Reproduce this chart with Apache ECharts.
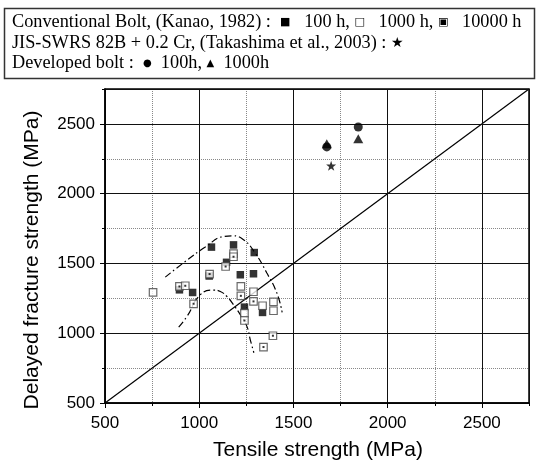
<!DOCTYPE html>
<html><head><meta charset="utf-8">
<script src="https://cdn.jsdelivr.net/npm/echarts@6/dist/echarts.min.js"></script>
<style>html,body{margin:0;padding:0;background:#fff}#c{width:538px;height:467px}</style>
</head><body><div id="c"></div>
<script>
// Axis ticks
const xTickValues = [500, 1000, 1500, 2000, 2500];
const yTickValues = [500, 1000, 1500, 2000, 2500];
// Conventional bolt (Kanao, 1982): [tensile, delayed fracture]
const bolt100h = [[895,1311],[965,1292],[1053,1410],[1065,1617],[1182,1633],[1145,1508],[1292,1578],[1218,1419],[1288,1426],[1240,1187],[1336,1149]];
const bolt1000h = [[755,1292],[1182,1570],[1221,1335],[1288,1297],[1336,1197],[1394,1225],[1394,1161],[1240,1144]];
const bolt10000h = [[895,1335],[926,1340],[970,1211],[1055,1424],[1140,1478],[1182,1548],[1221,1268],[1288,1228],[1240,1091],[1391,982],[1341,901]];
// JIS-SWRS 82B + 0.2 Cr (Takashima et al., 2003)
const takashima = [[1700,2200]];
// Developed bolt
const developed100h = [[1677,2335],[1844,2478]];
const developed1000h = [[1677,2358],[1844,2393]];
// Dash-dot envelopes
const upperEnvelope = [[820,1402],[926,1514],[1032,1617],[1129,1693],[1175,1698],[1235,1670],[1297,1574],[1359,1431],[1412,1288],[1440,1150]];
const lowerEnvelope = [[891,1044],[935,1120],[1006,1276],[1076,1309],[1112,1299],[1147,1263],[1182,1204],[1218,1132],[1253,1049],[1271,953],[1290,860]];
// y = x reference line
const diagonal = [[500,500],[2750,2750]];

const chart = echarts.init(document.getElementById('c'), null, {renderer:'canvas'});
const sansFont = 'Liberation Sans, Arial, sans-serif';
const serifFont = 'Liberation Serif, Times New Roman, serif';
const symFont = 'DejaVu Sans, sans-serif';

function majorAxis(pos, isX){
  return {
    type:'value', min:500, max:2750, interval:500, position:pos, z:3,
    axisLine:{show:true, onZero:false, lineStyle:{color:'#000', width:1.5}},
    axisTick:{show:true, length:5, lineStyle:{color:'#000', width:1}},
    axisLabel:{show:true, color:'#000', fontSize:17, fontFamily:sansFont, margin: isX?12:10, showMaxLabel:false,
      formatter: v => (isX ? xTickValues : yTickValues).includes(v) ? String(v) : ''},
    splitLine:{show:true, lineStyle:{color:'#111', width:1}}
  };
}
function minorAxis(pos){
  return {
    type:'value', min:500, max:2750, interval:250, position:pos, z:1,
    axisLine:{show:false}, axisLabel:{show:false},
    axisTick:{show:true, length:3, lineStyle:{color:'#000', width:1}},
    splitLine:{show:true, lineStyle:{color:'#888', width:1, type:[1,1]}}
  };
}

const option = {
  animation:false,
  backgroundColor:'#fff',
  grid:{left:105, top:89, width:424, height:314, show:true, borderColor:'#000', borderWidth:1.5, backgroundColor:'transparent'},
  xAxis:[majorAxis('bottom', true), minorAxis('bottom')],
  yAxis:[majorAxis('left', false), minorAxis('left')],
  series:[
    {type:'line', data:diagonal, showSymbol:false, symbol:'none', lineStyle:{color:'#000', width:1.2}, z:2},
    {type:'line', data:upperEnvelope, smooth:0.5, symbol:'none', lineStyle:{color:'#000', width:1.2, type:[7,3,1.5,3]}, z:2},
    {type:'line', data:lowerEnvelope, smooth:0.5, symbol:'none', lineStyle:{color:'#000', width:1.2, type:[7,3,1.5,3]}, z:2},
    {type:'scatter', data:bolt100h, symbol:'rect', symbolSize:7.5, itemStyle:{color:'#000'}, z:3},
    {type:'scatter', data:bolt1000h, symbol:'rect', symbolSize:7.5, itemStyle:{color:'#fff', borderColor:'#444', borderWidth:1.2}, z:4},
    {type:'scatter', data:bolt10000h, symbol:'rect', symbolSize:7.5, itemStyle:{color:'#fff', borderColor:'#444', borderWidth:1.2}, z:5},
    {type:'scatter', data:bolt10000h, symbol:'rect', symbolSize:2, itemStyle:{color:'#000'}, z:6},
    {type:'scatter', data:takashima, symbol:'path://M50,0 L61.8,35.5 L99,35.5 L69,57.5 L80.5,93 L50,71 L19.5,93 L31,57.5 L1,35.5 L38.2,35.5 Z', symbolSize:10, itemStyle:{color:'#000'}, z:7},
    {type:'scatter', data:developed100h, symbol:'circle', symbolSize:9, itemStyle:{color:'#000'}, z:7},
    {type:'scatter', data:developed1000h, symbol:'triangle', symbolSize:[10,9], itemStyle:{color:'#000'}, z:8}
  ],
  graphic:[
    {type:'rect', shape:{x:4.5, y:8.5, width:530, height:70}, style:{fill:'#fff', stroke:'#333', lineWidth:1.5}, z:10},
    {type:'text', x:12, y:22, z:11, style:{
      text:'Conventional Bolt, (Kanao, 1982) :  {s|■}   100 h, {s|□}   1000 h, {s|▣}   10000 h',
      font:'18.3px ' + serifFont, fill:'#000', verticalAlign:'middle',
      rich:{s:{fontFamily:symFont, fontSize:11, fill:'#000'}}}},
    {type:'text', x:12, y:43, z:11, style:{
      text:'JIS-SWRS 82B + 0.2 Cr, (Takashima et al., 2003) : {s|★}',
      font:'18.3px ' + serifFont, fill:'#000', verticalAlign:'middle',
      rich:{s:{fontFamily:symFont, fontSize:14, fill:'#000'}}}},
    {type:'text', x:12, y:63, z:11, style:{
      text:'Developed bolt :  {s|●}  100h, {s|▲}  1000h',
      font:'18.3px ' + serifFont, fill:'#000', verticalAlign:'middle',
      rich:{s:{fontFamily:symFont, fontSize:10, fill:'#000'}}}},
    {type:'text', x:318, y:450, z:11, style:{text:'Tensile strength (MPa)', font:'21px ' + sansFont, fill:'#000', align:'center', verticalAlign:'middle'}},
    {type:'text', x:32, y:260, rotation:Math.PI/2, z:11, style:{text:'Delayed fracture strength (MPa)', font:'21px ' + sansFont, fill:'#000', align:'center', verticalAlign:'middle'}}
  ]
};
chart.setOption(option);
</script>
</body></html>
